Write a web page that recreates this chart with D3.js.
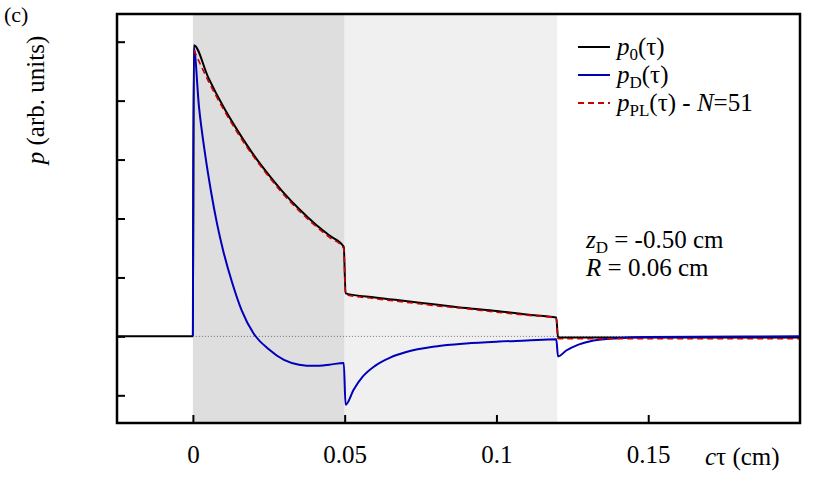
<!DOCTYPE html>
<html><head><meta charset="utf-8">
<script src="https://cdn.jsdelivr.net/npm/d3@7"></script>
<style>body{margin:0;background:#fff}</style>
</head><body><div id="chart"></div>
<script>
const width = 830, height = 478
const margin = {left: 117, right: 30, top: 14, bottom: 55}
const FONT = '"Liberation Serif", "Times New Roman", Times, serif'

// data: [c*tau (cm), p (arb. units)]
const p0 = [[-0.03,0],[0,0],[0.0003,4.94],[0.005,4.4],[0.01,3.9],[0.015,3.47],[0.02,3.08],[0.025,2.74],[0.03,2.43],[0.035,2.16],[0.04,1.92],[0.045,1.71],[0.0497,1.52],
  [0.0503,0.73],[0.06,0.66],[0.07,0.6],[0.08,0.54],[0.09,0.48],[0.1,0.43],[0.11,0.37],[0.1197,0.32],[0.1203,-0.02],[0.2,-0.02]]
const pD = [[0,0],[0.0003,4.9],[0.002,3.9],[0.004,3.1],[0.006,2.45],[0.008,1.9],[0.01,1.45],[0.013,0.9],[0.016,0.45],[0.02,0.05],[0.025,-0.22],[0.03,-0.4],[0.035,-0.48],[0.04,-0.5],[0.045,-0.48],[0.0497,-0.45],
  [0.0503,-1.16],[0.053,-0.9],[0.056,-0.68],[0.06,-0.5],[0.065,-0.36],[0.07,-0.27],[0.08,-0.17],[0.09,-0.12],[0.1,-0.09],[0.11,-0.07],[0.1197,-0.05],
  [0.1203,-0.34],[0.123,-0.24],[0.127,-0.14],[0.132,-0.07],[0.14,-0.03],[0.15,-0.01],[0.2,0]]
const pPL = [[0.0003,4.86],[0.005,4.34],[0.01,3.86],[0.015,3.43],[0.02,3.05],[0.025,2.71],[0.03,2.4],[0.035,2.13],[0.04,1.89],[0.045,1.68],[0.0497,1.49],
  [0.0503,0.71],[0.06,0.64],[0.07,0.58],[0.08,0.52],[0.09,0.47],[0.1,0.41],[0.11,0.36],[0.1197,0.31],[0.1203,-0.04],[0.2,-0.04]]
const xTicks = [0, 0.05, 0.1, 0.15]
const xTickLabels = ["0", "0.05", "0.1", "0.15"]
const yTicks = [-1, 0, 1, 2, 3, 4, 5]
const bands = [[0, 0.05, "#dedede"], [0.05, 0.12, "#f0f0f0"]]
const legendItems = [
  {base: "p", sub: "0", rest: "(τ)", color: "#000", dash: null},
  {base: "p", sub: "D", rest: "(τ)", color: "#0000bb", dash: null},
  {base: "p", sub: "PL", rest: "(τ) - ", n: "N", nrest: "=51", color: "#cc0000", dash: "6,4"}
]

const svg = d3.select("#chart").append("svg").attr("width", width).attr("height", height)
  .style("font-family", FONT)
const x = d3.scaleLinear().domain([-0.025, 0.2]).range([margin.left, width - margin.right])
const y = d3.scaleLinear().domain([-1.47, 5.47]).range([height - margin.bottom, margin.top])

svg.append("clipPath").attr("id", "clip").append("rect")
  .attr("x", margin.left).attr("y", margin.top)
  .attr("width", width - margin.left - margin.right).attr("height", y(-1.47) - margin.top)
const plot = svg.append("g").attr("clip-path", "url(#clip)")

plot.selectAll("rect.band").data(bands).join("rect").attr("class", "band")
  .attr("x", d => x(d[0])).attr("width", d => x(d[1]) - x(d[0]))
  .attr("y", margin.top).attr("height", y(-1.47) - margin.top).attr("fill", d => d[2])

plot.append("line").attr("x1", x(0)).attr("x2", x(0.2)).attr("y1", y(0)).attr("y2", y(0))
  .attr("stroke", "#555").attr("stroke-width", 0.8).attr("stroke-dasharray", "1,2")

const line = d3.line().x(d => x(d[0])).y(d => y(d[1])).curve(d3.curveMonotoneX)
plot.append("path").datum(p0).attr("d", line).attr("fill", "none").attr("stroke", "#000").attr("stroke-width", 2)
plot.append("path").datum(pD).attr("d", line).attr("fill", "none").attr("stroke", "#0000bb").attr("stroke-width", 2)
plot.append("path").datum(pPL).attr("d", line).attr("fill", "none").attr("stroke", "#cc0000").attr("stroke-width", 1.6).attr("stroke-dasharray", "6,4")

// frame and inward ticks
svg.append("rect").attr("x", margin.left).attr("y", margin.top)
  .attr("width", width - margin.left - margin.right).attr("height", y(-1.47) - margin.top)
  .attr("fill", "none").attr("stroke", "#000").attr("stroke-width", 2.5)
const xAxis = svg.append("g").attr("transform", `translate(0,${y(-1.47)})`)
  .call(d3.axisBottom(x).tickValues(xTicks).tickSizeInner(-8).tickSizeOuter(0).tickPadding(22).tickFormat((d, i) => xTickLabels[i]))
const yAxis = svg.append("g").attr("transform", `translate(${margin.left},0)`)
  .call(d3.axisLeft(y).tickValues(yTicks).tickSizeInner(-8).tickSizeOuter(0).tickFormat(""))
svg.selectAll(".domain").remove()
svg.selectAll(".tick line").attr("stroke-width", 2)
xAxis.attr("font-family", FONT).attr("font-size", 25).selectAll("text").attr("fill", "#000")

svg.append("text").attr("x", 705).attr("y", 465).attr("font-size", 25)
  .html('<tspan font-style="italic">c</tspan>τ (cm)')
svg.append("text").attr("transform", "translate(44,100) rotate(-90)").attr("text-anchor", "middle").attr("font-size", 25)
  .html('<tspan font-style="italic">p</tspan> (arb. units)')
svg.append("text").attr("x", 4).attr("y", 22).attr("font-size", 22).text("(c)")

const lg = svg.append("g")
legendItems.forEach((d, i) => {
  const yy = 47 + i * 28
  lg.append("line").attr("x1", 578).attr("x2", 610).attr("y1", yy).attr("y2", yy)
    .attr("stroke", d.color).attr("stroke-width", 2).attr("stroke-dasharray", d.dash)
  const t = lg.append("text").attr("x", 617).attr("y", yy + 8).attr("font-size", 25)
  t.append("tspan").attr("font-style", "italic").text(d.base)
  t.append("tspan").attr("font-size", 17).attr("dy", 5).text(d.sub)
  t.append("tspan").attr("dy", -5).text(d.rest)
  if (d.n) { t.append("tspan").attr("font-style", "italic").text(d.n); t.append("tspan").text(d.nrest) }
})

const a1 = svg.append("text").attr("x", 586).attr("y", 248).attr("font-size", 25)
a1.append("tspan").attr("font-style", "italic").text("z")
a1.append("tspan").attr("font-size", 17).attr("dy", 5).text("D")
a1.append("tspan").attr("dy", -5).text(" = -0.50 cm")
svg.append("text").attr("x", 586).attr("y", 276).attr("font-size", 25)
  .html('<tspan font-style="italic">R</tspan> = 0.06 cm')
</script></body></html>
